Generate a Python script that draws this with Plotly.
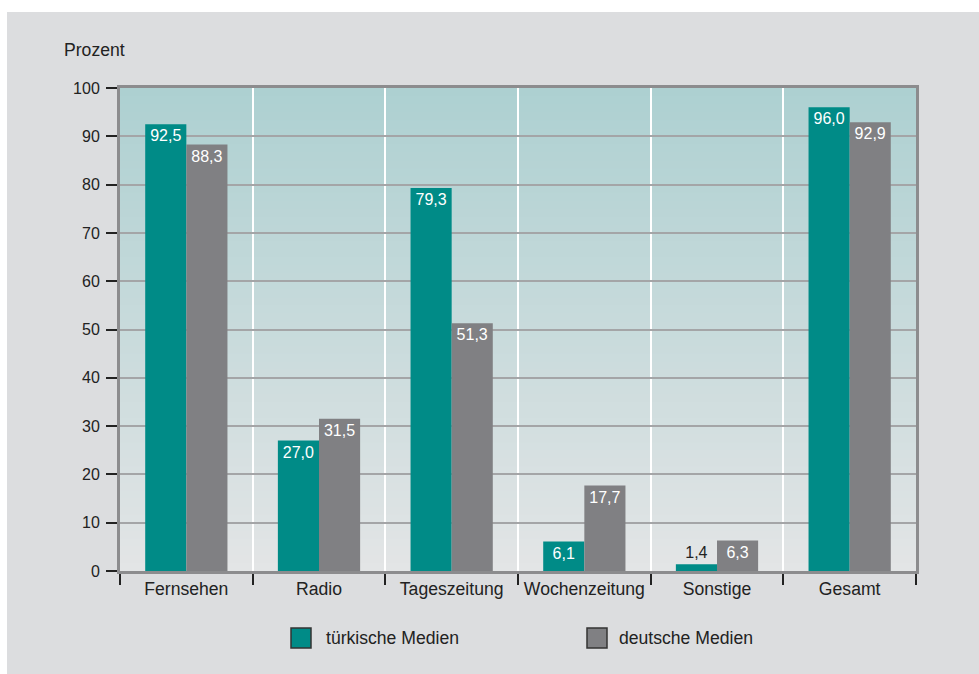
import plotly.graph_objects as go

categories = ["Fernsehen", "Radio", "Tageszeitung", "Wochenzeitung", "Sonstige", "Gesamt"]
tuerkisch = [92.5, 27.0, 79.3, 6.1, 1.4, 96.0]
deutsch = [88.3, 31.5, 51.3, 17.7, 6.3, 92.9]
series_names = ["türkische Medien", "deutsche Medien"]

TEAL = "#008b87"
GREY = "#808083"
FONT = "Liberation Sans, Arial, sans-serif"
FS = 16      # numbers
FT = 17.6    # words

W, H = 979, 674
L, R, T, B = 120, 63, 88, 103
PW, PH = W - L - R, H - T - B


def px(x):
    return (x - L) / PW


def py(y):
    return (H - B - y) / PH


def fmt(v):
    return f"{v:.1f}".replace(".", ",")


def labels(vals):
    pos = ["inside" if v >= 4 else "outside" for v in vals]
    return [fmt(v) for v in vals], pos


fig = go.Figure()
for name, vals, col in [(series_names[0], tuerkisch, TEAL), (series_names[1], deutsch, GREY)]:
    txt, pos = labels(vals)
    fig.add_trace(go.Bar(
        x=categories, y=vals, name=name, marker_color=col, marker_line_width=0,
        text=txt, textposition=pos, insidetextanchor="end",
        insidetextfont=dict(color="white", size=FS, family=FONT),
        outsidetextfont=dict(color="#222222", size=FS, family=FONT),
        textangle=0, cliponaxis=False, showlegend=False,
    ))

shapes = []
# outer grey panel
shapes.append(dict(type="rect", xref="paper", yref="paper", x0=px(7), x1=px(W + 5),
                   y0=py(12), y1=py(H + 5), fillcolor="#dcdddf", line_width=0, layer="below"))
# gradient background of plot area
top = (173, 208, 209)
bot = (227, 229, 230)
N = 60
for i in range(N):
    f = (i + 0.5) / N
    c = tuple(round(top[k] + (bot[k] - top[k]) * f) for k in range(3))
    shapes.append(dict(type="rect", xref="paper", yref="paper", x0=0, x1=1,
                       y0=1 - (i + 1) / N - 0.002, y1=1 - i / N,
                       fillcolor="rgb(%d,%d,%d)" % c, line_width=0, layer="below"))
# legend squares
for x0, col in [(291, TEAL), (587, GREY)]:
    shapes.append(dict(type="rect", xref="paper", yref="paper", x0=px(x0), x1=px(x0 + 20),
                       y0=py(628), y1=py(648), fillcolor=col,
                       line=dict(color="#333333", width=1.5)))

annotations = [
    dict(text="Prozent", xref="paper", yref="paper", x=px(62), y=py(50),
         xanchor="left", yanchor="middle", showarrow=False,
         font=dict(size=FT, color="#222222", family=FONT)),
    dict(text=series_names[0], xref="paper", yref="paper", x=px(324), y=py(638),
         xanchor="left", yanchor="middle", showarrow=False,
         font=dict(size=FT, color="#222222", family=FONT)),
    dict(text=series_names[1], xref="paper", yref="paper", x=px(617), y=py(638),
         xanchor="left", yanchor="middle", showarrow=False,
         font=dict(size=FT, color="#222222", family=FONT)),
]

fig.update_layout(
    width=W, height=H,
    margin=dict(l=L, r=R, t=T, b=B),
    paper_bgcolor="white", plot_bgcolor="rgba(0,0,0,0)",
    barmode="group", bargap=0.38, bargroupgap=0,
    font=dict(family=FONT, size=FS, color="#222222"),
    shapes=shapes, annotations=annotations,
    uniformtext=dict(mode=False),
)
fig.update_xaxes(
    type="category", tickson="boundaries", ticks="outside", ticklen=11, tickwidth=2,
    tickcolor="#222222", showgrid=True, gridcolor="white", gridwidth=2,
    showline=True, linecolor="#8c8c8e", linewidth=3, mirror=True,
    tickfont=dict(size=FT, color="#222222"), fixedrange=True,
)
fig.update_yaxes(
    range=[0, 100], dtick=10, ticks="outside", ticklen=11, tickwidth=2,
    tickcolor="#222222", showgrid=True, gridcolor="#a4a5a7", gridwidth=1.5,
    showline=True, linecolor="#8c8c8e", linewidth=3, mirror=True, zeroline=False,
    tickfont=dict(size=FS, color="#222222"), fixedrange=True, ticklabelstandoff=3,
)

fig.write_html("out.html", config={"displayModeBar": False})
with open("out.html", encoding="utf-8") as fh:
    html = fh.read()
html = html.replace("<head>", "<head><style>html,body{margin:0;padding:0;overflow:hidden}</style>", 1)
with open("out.html", "w", encoding="utf-8") as fh:
    fh.write(html)
